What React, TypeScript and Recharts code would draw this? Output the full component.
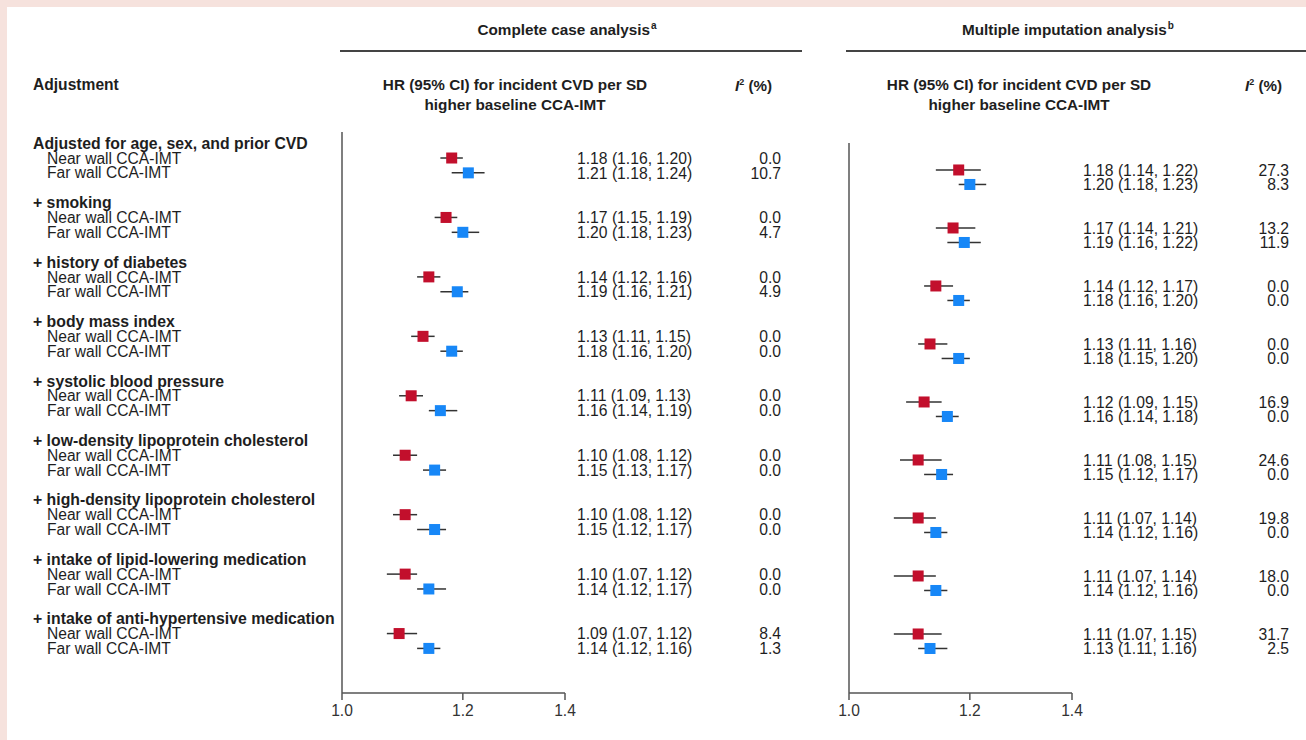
import React from 'react';
import { ComposedChart, Scatter, XAxis, YAxis, ErrorBar } from 'recharts';

// ---------- data ----------
const groups = [
  'Adjusted for age, sex, and prior CVD',
  '+ smoking',
  '+ history of diabetes',
  '+ body mass index',
  '+ systolic blood pressure',
  '+ low-density lipoprotein cholesterol',
  '+ high-density lipoprotein cholesterol',
  '+ intake of lipid-lowering medication',
  '+ intake of anti-hypertensive medication',
];
const subLabels = ['Near wall CCA-IMT', 'Far wall CCA-IMT'];
const xTicks = [1.0, 1.2, 1.4];

// Complete case analysis
const ccNearHR = [1.18, 1.17, 1.14, 1.13, 1.11, 1.10, 1.10, 1.10, 1.09];
const ccNearLo = [1.16, 1.15, 1.12, 1.11, 1.09, 1.08, 1.08, 1.07, 1.07];
const ccNearHi = [1.20, 1.19, 1.16, 1.15, 1.13, 1.12, 1.12, 1.12, 1.12];
const ccNearI2 = [0.0, 0.0, 0.0, 0.0, 0.0, 0.0, 0.0, 0.0, 8.4];
const ccFarHR = [1.21, 1.20, 1.19, 1.18, 1.16, 1.15, 1.15, 1.14, 1.14];
const ccFarLo = [1.18, 1.18, 1.16, 1.16, 1.14, 1.13, 1.12, 1.12, 1.12];
const ccFarHi = [1.24, 1.23, 1.21, 1.20, 1.19, 1.17, 1.17, 1.17, 1.16];
const ccFarI2 = [10.7, 4.7, 4.9, 0.0, 0.0, 0.0, 0.0, 0.0, 1.3];

// Multiple imputation analysis
const miNearHR = [1.18, 1.17, 1.14, 1.13, 1.12, 1.11, 1.11, 1.11, 1.11];
const miNearLo = [1.14, 1.14, 1.12, 1.11, 1.09, 1.08, 1.07, 1.07, 1.07];
const miNearHi = [1.22, 1.21, 1.17, 1.16, 1.15, 1.15, 1.14, 1.14, 1.15];
const miNearI2 = [27.3, 13.2, 0.0, 0.0, 16.9, 24.6, 19.8, 18.0, 31.7];
const miFarHR = [1.20, 1.19, 1.18, 1.18, 1.16, 1.15, 1.14, 1.14, 1.13];
const miFarLo = [1.18, 1.16, 1.16, 1.15, 1.14, 1.12, 1.12, 1.12, 1.11];
const miFarHi = [1.23, 1.22, 1.20, 1.20, 1.18, 1.17, 1.16, 1.16, 1.16];
const miFarI2 = [8.3, 11.9, 0.0, 0.0, 0.0, 0.0, 0.0, 0.0, 2.5];

// ---------- helpers ----------
type Pt = { hr: number; row: number; err: [number, number]; label: string; i2: string };

function buildSeries(hr: number[], lo: number[], hi: number[], i2: number[], offset: number): Pt[] {
  return hr.map((v, g) => ({
    hr: v,
    row: g * 4 + offset,
    err: [v - lo[g], hi[g] - v],
    label: `${v.toFixed(2)} (${lo[g].toFixed(2)}, ${hi[g].toFixed(2)})`,
    i2: i2[g].toFixed(1),
  }));
}

const ccNear = buildSeries(ccNearHR, ccNearLo, ccNearHi, ccNearI2, 1);
const ccFar = buildSeries(ccFarHR, ccFarLo, ccFarHi, ccFarI2, 2);
const miNear = buildSeries(miNearHR, miNearLo, miNearHi, miNearI2, 1);
const miFar = buildSeries(miFarHR, miFarLo, miFarHi, miFarI2, 2);

const rowTicks = groups.flatMap((_, g) => [g * 4, g * 4 + 1, g * 4 + 2]);
const rowText = (r: number) => {
  const g = Math.floor(r / 4);
  const k = r % 4;
  return k === 0 ? groups[g] : subLabels[k - 1];
};

const FONT = '"Liberation Sans", Arial, Helvetica, sans-serif';
const RED = '#c20f2c';
const BLUE = '#1787f7';
const TEXT = '#1e1e1e';
const AXIS = '#555';

const RowTick = (props: any) => {
  const { y, payload } = props;
  const r = Math.round(payload.value);
  const header = r % 4 === 0;
  return (
    <text
      x={header ? 33 : 47}
      y={y}
      dy="0.36em"
      fontFamily={FONT}
      fontSize={header ? 15.8 : 15.6}
      fontWeight={header ? 'bold' : 'normal'}
      fill={TEXT}
    >
      {rowText(r)}
    </text>
  );
};

const makeShape = (color: string, hrX: number, i2X: number) => (props: any) => {
  const { cx, cy, payload } = props;
  if (cx == null || cy == null) return <g />;
  return (
    <g>
      <rect x={cx - 5.5} y={cy - 5.5} width={11} height={11} fill={color} />
      <text x={hrX} y={cy} dy="0.36em" fontFamily={FONT} fontSize={15.7} fill={TEXT}>
        {payload.label}
      </text>
      <text x={i2X} y={cy} dy="0.36em" textAnchor="end" fontFamily={FONT} fontSize={15.7} fill={TEXT}>
        {payload.i2}
      </text>
    </g>
  );
};

type PanelProps = {
  near: Pt[];
  far: Pt[];
  left: number;
  width: number;
  yAxisWidth: number;
  marginTop: number;
  marginRight: number;
  yDomain: [number, number];
  hrX: number;
  i2X: number;
  labels: boolean;
};

const Panel = (p: PanelProps) => (
  <div style={{ position: 'absolute', left: p.left, top: 0 }}>
    <ComposedChart
      width={p.width}
      height={740}
      margin={{ top: p.marginTop, right: p.marginRight, bottom: 17, left: 0 }}
    >
      <XAxis
        dataKey="hr"
        type="number"
        scale="log"
        domain={[1.0, 1.4]}
        ticks={xTicks}
        tickFormatter={(v: number) => v.toFixed(1)}
        height={30}
        tickSize={7}
        tickMargin={5}
        axisLine={{ stroke: AXIS, strokeWidth: 1.5 }}
        tickLine={{ stroke: AXIS, strokeWidth: 1.5 }}
        tick={{ fill: '#333', fontSize: 15.6, fontFamily: FONT }}
        interval={0}
      />
      <YAxis
        dataKey="row"
        type="number"
        domain={p.yDomain}
        reversed
        width={p.yAxisWidth}
        ticks={p.labels ? rowTicks : []}
        interval={0}
        tick={p.labels ? <RowTick /> : false}
        tickLine={false}
        axisLine={{ stroke: AXIS, strokeWidth: 1.5 }}
      />
      <Scatter data={p.near} fill={RED} isAnimationActive={false} shape={makeShape(RED, p.hrX, p.i2X)}>
        <ErrorBar dataKey="err" direction="x" width={0} stroke="#333" strokeWidth={1.5} />
      </Scatter>
      <Scatter data={p.far} fill={BLUE} isAnimationActive={false} shape={makeShape(BLUE, p.hrX, p.i2X)}>
        <ErrorBar dataKey="err" direction="x" width={0} stroke="#333" strokeWidth={1.5} />
      </Scatter>
    </ComposedChart>
  </div>
);

const abs = (s: React.CSSProperties): React.CSSProperties => ({
  position: 'absolute',
  fontFamily: FONT,
  color: TEXT,
  whiteSpace: 'nowrap',
  ...s,
});

const Sup = ({ children }: { children: React.ReactNode }) => (
  <span style={{ fontSize: 10, position: 'relative', top: -6, marginLeft: 1 }}>{children}</span>
);

const I2Head = ({ left }: { left: number }) => (
  <div style={abs({ left, top: 77, fontSize: 15.2, fontWeight: 'bold', lineHeight: '18px' })}>
    <i>I</i>
    <span style={{ fontSize: 9, position: 'relative', top: -6 }}>2</span>
    {' (%)'}
  </div>
);

const HRHead = ({ center }: { center: number }) => (
  <div
    style={abs({
      left: center - 160,
      width: 320,
      top: 75,
      fontSize: 15.3,
      fontWeight: 'bold',
      lineHeight: '20px',
      textAlign: 'center',
    })}
  >
    <div>{'HR (95% CI) for incident CVD per SD'}</div>
    <div>{'higher baseline CCA-IMT'}</div>
  </div>
);

export default function App() {
  return (
    <div style={{ position: 'absolute', left: 0, top: 0, width: 1306, height: 740, background: '#f6e2dd', overflow: 'hidden' }}>
      <div style={{ position: 'absolute', left: 7, top: 7, width: 1299, height: 733, background: '#ffffff' }} />

      <div style={abs({ left: 33, top: 76, fontSize: 15.6, fontWeight: 'bold', lineHeight: '18px' })}>Adjustment</div>

      <div style={abs({ left: 340, width: 454, top: 21, fontSize: 15.3, fontWeight: 'bold', lineHeight: '18px', textAlign: 'center' })}>
        {'Complete case analysis'}
        <Sup>a</Sup>
      </div>
      <div style={{ position: 'absolute', left: 340, top: 50, width: 462, height: 1.5, background: '#444' }} />

      <div style={abs({ left: 908, width: 320, top: 21, fontSize: 15.3, fontWeight: 'bold', lineHeight: '18px', textAlign: 'center' })}>
        {'Multiple imputation analysis'}
        <Sup>b</Sup>
      </div>
      <div style={{ position: 'absolute', left: 846, top: 50, width: 460, height: 1.5, background: '#444' }} />

      <HRHead center={515} />
      <I2Head left={735} />
      <HRHead center={1019} />
      <I2Head left={1245} />

      <Panel
        near={ccNear}
        far={ccFar}
        left={0}
        width={800}
        yAxisWidth={342}
        marginTop={132}
        marginRight={235}
        yDomain={[-0.75, 37]}
        hrX={577}
        i2X={781}
        labels
      />
      <Panel
        near={miNear}
        far={miFar}
        left={820}
        width={486}
        yAxisWidth={29}
        marginTop={143}
        marginRight={234}
        yDomain={[-0.86, 37.07]}
        hrX={263}
        i2X={469}
        labels={false}
      />
    </div>
  );
}
